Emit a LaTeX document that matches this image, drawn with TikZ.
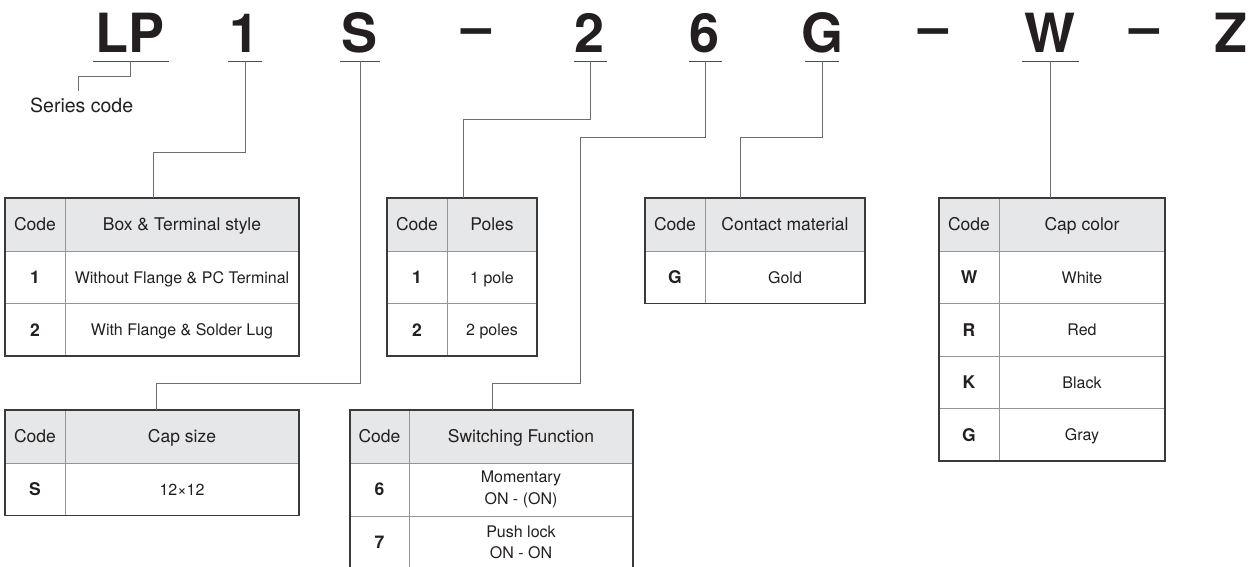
\documentclass[tikz,border=0pt]{standalone}
\usepackage{fontspec}
\setmainfont{TeX Gyre Heros}
\usetikzlibrary{positioning}
\definecolor{ink}{HTML}{231F20}
\definecolor{leadgray}{HTML}{6D6E71}
\definecolor{gridgray}{HTML}{939598}
\definecolor{hdrgray}{HTML}{E6E7E8}
\definecolor{framegray}{HTML}{3A3A3C}
\tikzset{
  lead/.style={draw=leadgray, line width=1pt},
  uline/.style={draw=ink!80, line width=1pt},
  frame/.style={draw=framegray, line width=1.4pt},
  cell/.style={draw=gridgray, line width=0.9pt, anchor=north west, inner sep=0pt, outer sep=0pt,
    text=ink, minimum height=52.5, font=\fontsize{16}{21.5}\selectfont},
  bcell/.style={cell, text height=11.5pt, text depth=0pt},
  ccell/.style={bcell, text height=12.6pt, font=\fontsize{17.5}{21.5}\selectfont\bfseries},
  hcell/.style={bcell, fill=hdrgray, minimum height=53, text height=12.6pt,
    font=\fontsize{17.5}{21}\selectfont},
  twoline/.style={cell, align=center, minimum height=53},
  bigletter/.style={anchor=base, inner sep=0pt, text=ink, font=\fontsize{54}{60}\selectfont\bfseries}
}

\begin{document}
\begin{tikzpicture}[x=1pt, y=-1pt]
  \useasboundingbox (0,0) rectangle (1257,566);
  \clip (0,0) rectangle (1257,566);

  % ordering code
  \foreach \n/\x/\w in {LP/130.5/38, 1/245/17, S/360/20, 2/590/16.5, 6/705/16.5, G/822/17, W/1050/28.5} {
    \node[bigletter] (l\n) at (\x,52) {\n};
    \coordinate (u\n) at (\x,61);
    \draw[uline] (u\n) ++(-\w,0) -- ++(2*\w,0);
  }
  \node[bigletter] (lZ) at (1231,52) {Z};
  \foreach \x [count=\i] in {476.5, 933.5, 1144.5}
    \node[bigletter] (dash\i) at (\x,45) {–};

  \node[anchor=base west, inner sep=0pt, text=ink, font=\fontsize{19.5}{22}\selectfont] (series) at (30,112) {Series code};

  % box & terminal style
  \node[hcell, minimum width=60] (boxc0) at (5,198) {Code};
  \node[hcell, minimum width=234] (boxt0) at (boxc0.north east) {Box \& Terminal style};
  \foreach \c/\t [count=\i, remember=\i as \j (initially 0)] in {1/Without Flange \& PC Terminal, 2/With Flange \& Solder Lug} {
    \node[ccell, minimum width=60] (boxc\i) at (boxc\j.south west) {\c};
    \node[bcell, minimum width=234] (boxt\i) at (boxc\i.north east) {\t};
  }
  \draw[frame] (boxc0.north west) rectangle (boxt2.south east);

  % cap size
  \node[hcell, minimum width=60] (capc0) at (5,410) {Code};
  \node[hcell, minimum width=234] (capt0) at (capc0.north east) {Cap size};
  \node[ccell, minimum width=60] (capc1) at (capc0.south west) {S};
  \node[bcell, minimum width=234] (capt1) at (capc1.north east) {12×12};
  \draw[frame] (capc0.north west) rectangle (capt1.south east);

  % poles
  \node[hcell, minimum width=60] (polc0) at (387,198) {Code};
  \node[hcell, minimum width=90] (polt0) at (polc0.north east) {Poles};
  \foreach \c/\t [count=\i, remember=\i as \j (initially 0)] in {1/1 pole, 2/2 poles} {
    \node[ccell, minimum width=60] (polc\i) at (polc\j.south west) {\c};
    \node[bcell, minimum width=90] (polt\i) at (polc\i.north east) {\t};
  }
  \draw[frame] (polc0.north west) rectangle (polt2.south east);

  % switching function
  \node[hcell, minimum width=59] (swc0) at (350,410) {Code};
  \node[hcell, minimum width=224] (swt0) at (swc0.north east) {Switching Function};
  \foreach \c/\t [count=\i, remember=\i as \j (initially 0)] in {6/{Momentary\\ON - (ON)}, 7/{Push lock\\ON - ON}} {
    \node[ccell, minimum width=59, minimum height=53] (swc\i) at (swc\j.south west) {\c};
    \node[twoline, minimum width=224] (swt\i) at (swc\i.north east) {\t};
  }
  \draw[frame] (swc0.north west) rectangle (swt2.south east);

  % contact material
  \node[hcell, minimum width=60] (conc0) at (645,198) {Code};
  \node[hcell, minimum width=160] (cont0) at (conc0.north east) {Contact material};
  \node[ccell, minimum width=60] (conc1) at (conc0.south west) {G};
  \node[bcell, minimum width=160] (cont1) at (conc1.north east) {Gold};
  \draw[frame] (conc0.north west) rectangle (cont1.south east);

  % cap color
  \node[hcell, minimum width=60] (colc0) at (939,198) {Code};
  \node[hcell, minimum width=166] (colt0) at (colc0.north east) {Cap color};
  \foreach \c/\t [count=\i, remember=\i as \j (initially 0)] in {W/White, R/Red, K/Black, G/Gray} {
    \node[ccell, minimum width=60] (colc\i) at (colc\j.south west) {\c};
    \node[bcell, minimum width=166] (colt\i) at (colc\i.north east) {\t};
  }
  \draw[frame] (colc0.north west) rectangle (colt4.south east);

  % leaders
  \coordinate (sc) at (78,91);
  \coordinate (kbox) at (153,198);
  \coordinate (kcap) at (156,410);
  \coordinate (kpol) at (463,198);
  \coordinate (ksw) at (492,410);
  \coordinate (kcon) at (740,198);
  \coordinate (kcol) at (1050,198);
  \draw[lead] (uLP) |- (78,76) -- (sc);
  \draw[lead] (u1) |- (153,152) -- (kbox);
  \draw[lead] (uS) |- (156,383) -- (kcap);
  \draw[lead] (u2) |- (463,119) -- (kpol);
  \draw[lead] (u6) |- (580,137) |- (492,383) -- (ksw);
  \draw[lead] (uG) |- (740,137) -- (kcon);
  \draw[lead] (uW) -- (kcol);
\end{tikzpicture}
\end{document}
